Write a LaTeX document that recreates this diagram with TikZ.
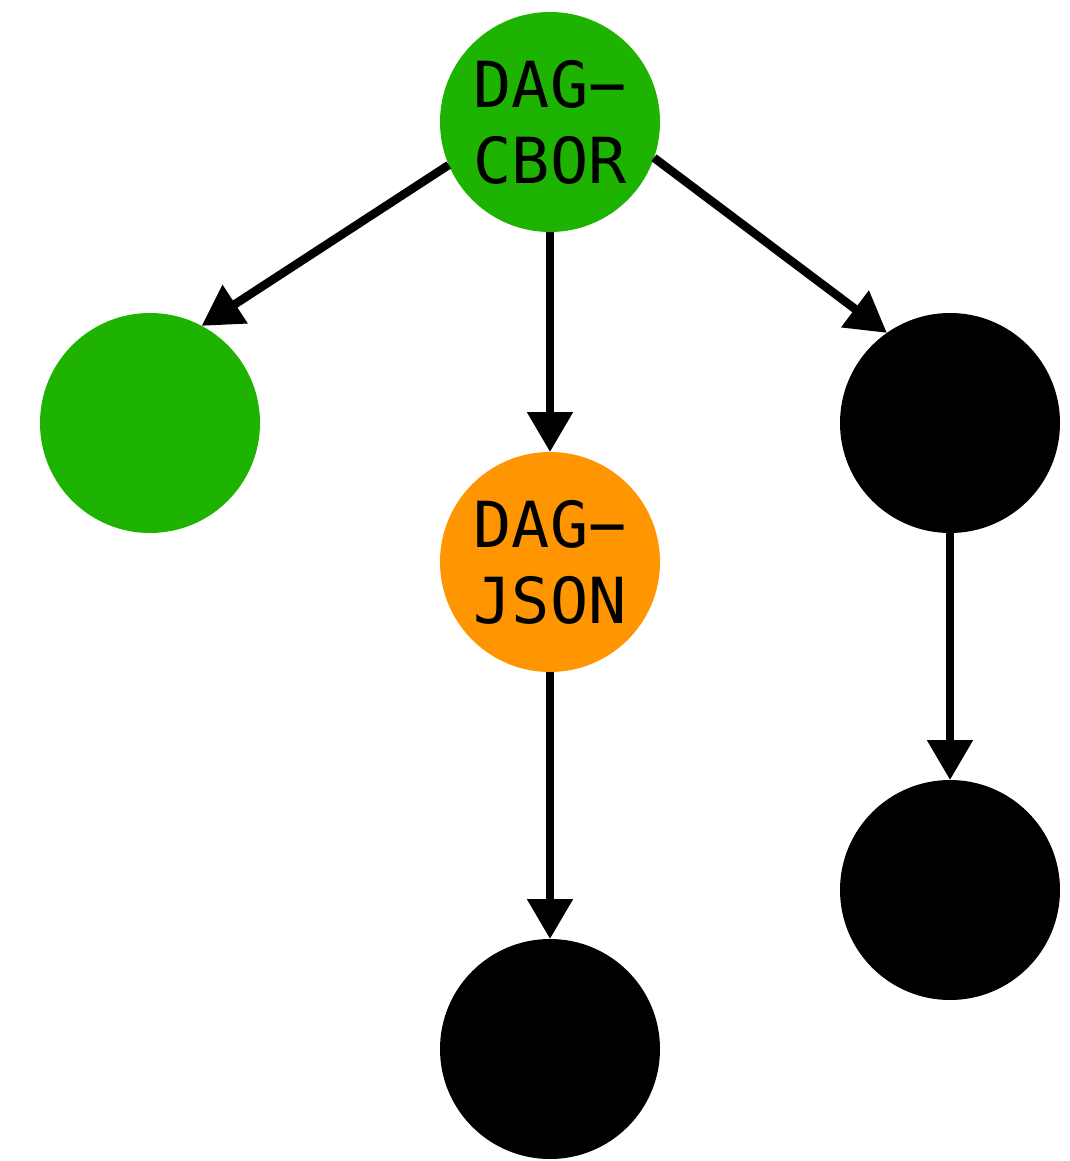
\documentclass[tikz,border=0pt]{standalone}
\usepackage{fontspec}
\newfontfamily\monofont{DejaVu Sans Mono}
\usetikzlibrary{arrows.meta}
\definecolor{cgreen}{HTML}{1DB300}
\definecolor{corange}{HTML}{FF9500}
\tikzset{
  vert/.style={circle,minimum size=220pt,inner sep=0pt,outer sep=0pt,draw=none,
    font=\monofont\fontsize{63.5pt}{76pt}\selectfont,align=center},
  edge/.style={line width=8.5pt,-{Triangle[length=40pt,width=44pt]},shorten >=0pt}
}
\begin{document}
\begin{tikzpicture}[x=1pt,y=-1pt]
\useasboundingbox (0,0) rectangle (1070,1161);
\node[vert,fill=cgreen] (cbor) at (550,122) {DAG−\\CBOR};
\node[vert,fill=cgreen] (left) at (150,423) {};
\node[vert,fill=corange] (json) at (550,562) {DAG−\\JSON};
\node[vert,fill=black] (right) at (950,423) {};
\node[vert,fill=black] (rbot) at (950,890) {};
\node[vert,fill=black] (bot) at (550,1049) {};
\draw[edge] (cbor.203.3) -- (left.62.7);
\draw[edge] (cbor.south) -- (json.north);
\draw[edge] (cbor.-19.4) -- (right.125.7);
\draw[edge] (json.south) -- (bot.north);
\draw[edge] (right.south) -- (rbot.north);
\end{tikzpicture}
\end{document}
